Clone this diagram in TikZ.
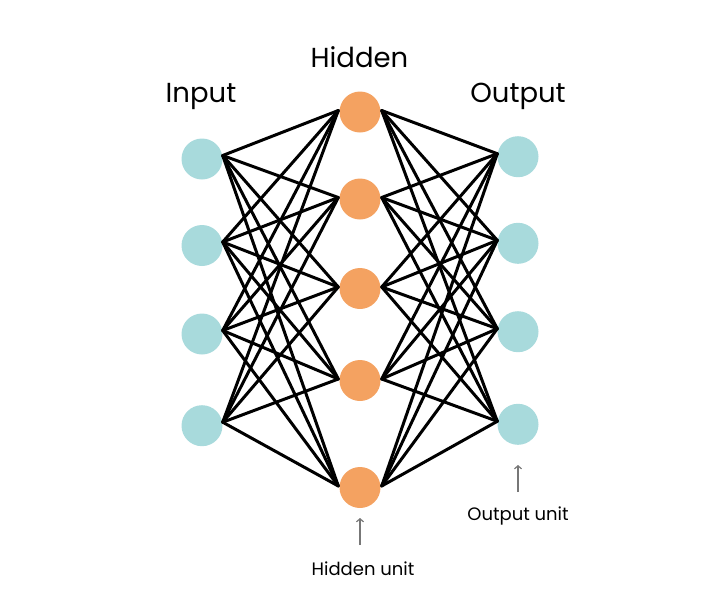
\documentclass[tikz,border=0pt]{standalone}
\usepackage{fontspec}
\setmainfont{Poppins}
\usetikzlibrary{arrows.meta}
\definecolor{inblue}{HTML}{A8DADC}
\definecolor{hidorange}{HTML}{F4A261}
\definecolor{arrgray}{HTML}{777777}
\tikzset{
  unit/.style={circle, minimum size=41pt, inner sep=0pt, draw=none},
  inunit/.style={unit, fill=inblue},
  hidunit/.style={unit, fill=hidorange},
  outunit/.style={unit, fill=inblue},
  link/.style={line width=3pt, black, line cap=round},
  layerlabel/.style={font=\fontsize{27.5}{31}\selectfont, text=black, inner sep=0pt},
  unitlabel/.style={font=\fontsize{18}{21}\selectfont, text=black, inner sep=0pt},
  pointer/.style={line width=1.4pt, arrgray, -{Straight Barb[length=3pt,width=7pt,line width=1.2pt]}}
}
\begin{document}
\begin{tikzpicture}[x=1pt,y=-1pt]
\useasboundingbox (0,0) rectangle (720,600);
% input
\foreach \n/\yy in {1/159,2/245.5,3/334,4/425.7}{
  \node[inunit] (i\n) at (202,\yy) {};
  \coordinate (ie\n) at ([yshift=3.5pt]i\n.east);
}
% hidden
\foreach \n/\yy in {1/112,2/199,3/288.5,4/380.5,5/487.5}{
  \node[hidunit] (h\n) at (360,\yy) {};
  \coordinate (hw\n) at ([yshift=1.5pt,xshift=-1pt]h\n.west);
  \coordinate (he\n) at ([yshift=1.5pt,xshift=1pt]h\n.east);
}
% output
\foreach \n/\yy in {1/156.7,2/243.3,3/331.7,4/424.3}{
  \node[outunit] (o\n) at (518,\yy) {};
  \coordinate (ow\n) at ([yshift=3pt]o\n.west);
}
% connections
\foreach \a in {1,...,4}{
  \foreach \b in {1,...,5}{
    \draw[link] (ie\a) -- (hw\b);
    \draw[link] (he\b) -- (ow\a);
  }
}
% layer labels
\node[layerlabel, anchor=base] (lin) at (201,102.7) {Input};
\node[layerlabel, anchor=base] (lhid) at (359.5,67.3) {Hidden};
\node[layerlabel, anchor=base] (lout) at (518,102.7) {Output};
% unit labels
\coordinate (ha0) at (360,545);
\coordinate (ha1) at (360,518);
\draw[pointer] (ha0) -- (ha1);
\node[unitlabel, anchor=base] (hu) at (363,575) {Hidden unit};
\coordinate (oa0) at (518,492);
\coordinate (oa1) at (518,465);
\draw[pointer] (oa0) -- (oa1);
\node[unitlabel, anchor=base] (ou) at (518,520.5) {Output unit};
\end{tikzpicture}
\end{document}
